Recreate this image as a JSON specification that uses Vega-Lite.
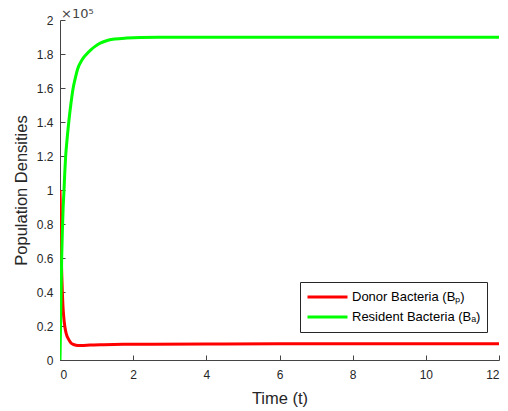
{
  "$schema": "https://vega.github.io/schema/vega-lite/v6.json",
  "width": 439,
  "height": 340,
  "autosize": {"type": "none"},
  "padding": {"left": 60, "top": 20, "right": 9, "bottom": 51},
  "background": "white",
  "title": {"text": "×10⁵", "anchor": "start", "frame": "group", "offset": 0, "dy": 7, "fontSize": 13, "fontWeight": "normal", "color": "#444444", "font": "DejaVu Sans", "dx": 1},
  "config": {
    "view": {"stroke": null},
    "font": "Liberation Sans",
    "axis": {"grid": false, "domainColor": "#444444", "tickColor": "#444444", "labelColor": "#262626", "titleColor": "#262626", "labelFontSize": 12, "titleFontSize": 16.5, "titleFontWeight": "normal", "tickSize": -5}
  },
  "data": {"values": [
    {"series": "Donor Bacteria (Bₚ)", "t": 0, "v": 1.0},
    {"series": "Donor Bacteria (Bₚ)", "t": 0.005, "v": 0.95},
    {"series": "Donor Bacteria (Bₚ)", "t": 0.018, "v": 0.8},
    {"series": "Donor Bacteria (Bₚ)", "t": 0.036, "v": 0.6},
    {"series": "Donor Bacteria (Bₚ)", "t": 0.05, "v": 0.49},
    {"series": "Donor Bacteria (Bₚ)", "t": 0.064, "v": 0.4},
    {"series": "Donor Bacteria (Bₚ)", "t": 0.08, "v": 0.32},
    {"series": "Donor Bacteria (Bₚ)", "t": 0.1, "v": 0.26},
    {"series": "Donor Bacteria (Bₚ)", "t": 0.13, "v": 0.2},
    {"series": "Donor Bacteria (Bₚ)", "t": 0.17, "v": 0.155},
    {"series": "Donor Bacteria (Bₚ)", "t": 0.24, "v": 0.12},
    {"series": "Donor Bacteria (Bₚ)", "t": 0.3, "v": 0.1},
    {"series": "Donor Bacteria (Bₚ)", "t": 0.36, "v": 0.092},
    {"series": "Donor Bacteria (Bₚ)", "t": 0.44, "v": 0.087},
    {"series": "Donor Bacteria (Bₚ)", "t": 0.52, "v": 0.085},
    {"series": "Donor Bacteria (Bₚ)", "t": 0.65, "v": 0.086},
    {"series": "Donor Bacteria (Bₚ)", "t": 0.82, "v": 0.088},
    {"series": "Donor Bacteria (Bₚ)", "t": 1.2, "v": 0.09},
    {"series": "Donor Bacteria (Bₚ)", "t": 1.73, "v": 0.092},
    {"series": "Donor Bacteria (Bₚ)", "t": 2.5, "v": 0.093},
    {"series": "Donor Bacteria (Bₚ)", "t": 4, "v": 0.094},
    {"series": "Donor Bacteria (Bₚ)", "t": 6, "v": 0.095},
    {"series": "Donor Bacteria (Bₚ)", "t": 12, "v": 0.095},
    {"series": "Resident Bacteria (Bₐ)", "t": 0, "v": 0},
    {"series": "Resident Bacteria (Bₐ)", "t": 0.015, "v": 0.2},
    {"series": "Resident Bacteria (Bₐ)", "t": 0.03, "v": 0.4},
    {"series": "Resident Bacteria (Bₐ)", "t": 0.046, "v": 0.6},
    {"series": "Resident Bacteria (Bₐ)", "t": 0.065, "v": 0.76},
    {"series": "Resident Bacteria (Bₐ)", "t": 0.085, "v": 0.89},
    {"series": "Resident Bacteria (Bₐ)", "t": 0.11, "v": 1.0},
    {"series": "Resident Bacteria (Bₐ)", "t": 0.13, "v": 1.1},
    {"series": "Resident Bacteria (Bₐ)", "t": 0.155, "v": 1.2},
    {"series": "Resident Bacteria (Bₐ)", "t": 0.19, "v": 1.29},
    {"series": "Resident Bacteria (Bₐ)", "t": 0.24, "v": 1.4},
    {"series": "Resident Bacteria (Bₐ)", "t": 0.3, "v": 1.51},
    {"series": "Resident Bacteria (Bₐ)", "t": 0.36, "v": 1.6},
    {"series": "Resident Bacteria (Bₐ)", "t": 0.42, "v": 1.66},
    {"series": "Resident Bacteria (Bₐ)", "t": 0.48, "v": 1.71},
    {"series": "Resident Bacteria (Bₐ)", "t": 0.6, "v": 1.765},
    {"series": "Resident Bacteria (Bₐ)", "t": 0.73, "v": 1.8},
    {"series": "Resident Bacteria (Bₐ)", "t": 0.85, "v": 1.826},
    {"series": "Resident Bacteria (Bₐ)", "t": 0.96, "v": 1.845},
    {"series": "Resident Bacteria (Bₐ)", "t": 1.1, "v": 1.864},
    {"series": "Resident Bacteria (Bₐ)", "t": 1.27, "v": 1.878},
    {"series": "Resident Bacteria (Bₐ)", "t": 1.5, "v": 1.888},
    {"series": "Resident Bacteria (Bₐ)", "t": 1.82, "v": 1.894},
    {"series": "Resident Bacteria (Bₐ)", "t": 2.2, "v": 1.897},
    {"series": "Resident Bacteria (Bₐ)", "t": 3, "v": 1.898},
    {"series": "Resident Bacteria (Bₐ)", "t": 5, "v": 1.898},
    {"series": "Resident Bacteria (Bₐ)", "t": 12, "v": 1.898}
  ]},
  "mark": {"type": "line", "strokeWidth": 3, "interpolate": "monotone", "clip": true},
  "encoding": {
    "x": {"field": "t", "type": "quantitative", "scale": {"domain": [0, 12], "nice": false}, "axis": {"title": "Time (t)", "values": [0, 2, 4, 6, 8, 10, 12], "labelPadding": 14, "titlePadding": 10}},
    "y": {"field": "v", "type": "quantitative", "scale": {"domain": [0, 2], "nice": false}, "axis": {"title": "Population Densities", "values": [0, 0.2, 0.4, 0.6, 0.8, 1, 1.2, 1.4, 1.6, 1.8, 2], "format": ".1~f", "labelPadding": 12, "titlePadding": 7}},
    "color": {"field": "series", "type": "nominal", "sort": ["Donor Bacteria (Bₚ)", "Resident Bacteria (Bₐ)"],
      "scale": {"domain": ["Donor Bacteria (Bₚ)", "Resident Bacteria (Bₐ)"], "range": ["#ff0000", "#00ff00"]},
      "legend": {"title": null, "orient": "none", "legendX": 240, "legendY": 262, "strokeColor": "#262626", "fillColor": "white", "padding": 6, "rowPadding": 2, "clipHeight": 18, "symbolType": "stroke", "symbolSize": 1600, "symbolStrokeWidth": 3, "labelFontSize": 13, "labelColor": "#000000", "labelOffset": 3, "labelLimit": 300}}
  }
}
